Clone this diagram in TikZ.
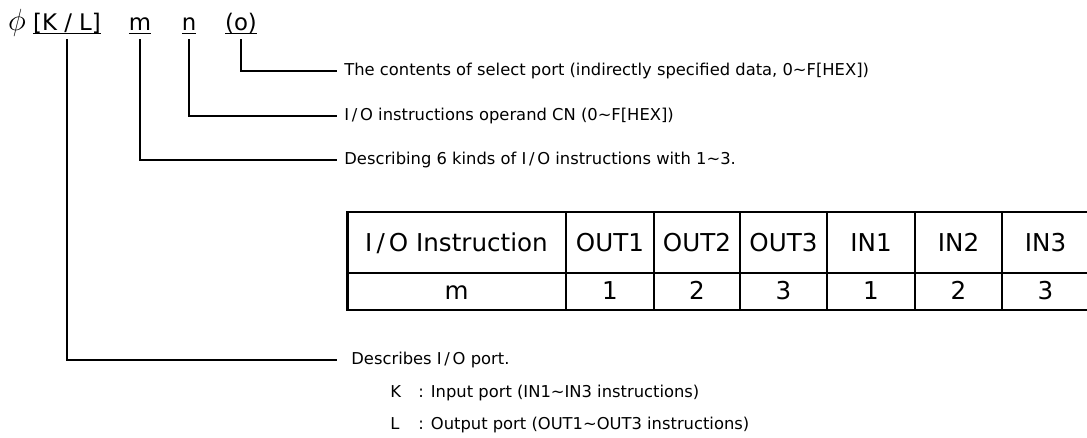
\documentclass[tikz,border=0pt]{standalone}
\usepackage{fontspec}
\setmainfont{DejaVu Sans}
\usetikzlibrary{positioning}
\newcommand{\codeul}[1]{\underline{\raisebox{0pt}[\height][0pt]{#1}}}

\begin{document}
\begin{tikzpicture}[x=0.02cm, y=-0.02cm, font=\fontsize{9.3}{11}\selectfont,
    head/.style={font=\fontsize{13}{15}\selectfont, inner sep=2.5pt, anchor=base},
    lbl/.style={anchor=west, inner sep=4pt},
    cell/.style={font=\fontsize{14}{16}\selectfont, anchor=base},
    lead/.style={line width=1pt}]
    \useasboundingbox (0,0) rectangle (1087,438);
    % instruction format
    \node[head] (phi) at (17,31) {\scalebox{1.45}{$\phi$}};
    \node[head] (kl) at (67,31) {\codeul{[K / L]}};
    \node[head] (m) at (140,31) {\codeul{m}};
    \node[head] (n) at (189,31) {\codeul{n}};
    \node[head] (o) at (241,31) {\codeul{(o)}};
    % explanations
    \node[lbl] (txto) at (337,71) {The contents of select port (indirectly specified data, 0∼F[HEX])};
    \node[lbl] (txtn) at (337,116) {I\,/\,O instructions operand CN (0∼F[HEX])};
    \node[lbl] (txtm) at (337,160) {Describing 6 kinds of I\,/\,O instructions with 1∼3.};
    \node[lbl, inner xsep=8pt] (txtkl) at (337,360) {Describes I\,/\,O port.};
    \node[anchor=west, inner sep=0pt] (kport) at (390,393) {\makebox[16pt][l]{K}: Input port (IN1∼IN3 instructions)};
    \node[anchor=west, inner sep=0pt] (lport) at (390,425) {\makebox[16pt][l]{L}: Output port (OUT1∼OUT3 instructions)};
    \draw[lead] (o.south) |- (txto.west);
    \draw[lead] (n.south) |- (txtn.west);
    \draw[lead] (m.south) |- (txtm.west);
    \draw[lead] (kl.south) |- (txtkl.west);
    % table of m
    \node[cell] (hd0) at (456.5,252) {I\,/\,O Instruction};
    \node[cell] (vl0) at (456.5,300) {m};
    \foreach \cx/\hd/\vl [count=\i] in {610/OUT1/1, 697/OUT2/2, 783.5/OUT3/3, 871/IN1/1, 958.5/IN2/2, 1045.5/IN3/3} {
        \node[cell] (hd\i) at (\cx,252) {\hd};
        \node[cell] (vl\i) at (\cx,300) {\vl};
    }
    \draw[line width=0.9pt] foreach \gx in {566,654,740,827,915,1002} {(\gx,212) -- (\gx,310)};
    \draw[line width=1.7pt] (347,273) -- (1089,273);
    \draw[line width=1.7pt] (347,212) rectangle (1089,310);
\end{tikzpicture}
\end{document}
